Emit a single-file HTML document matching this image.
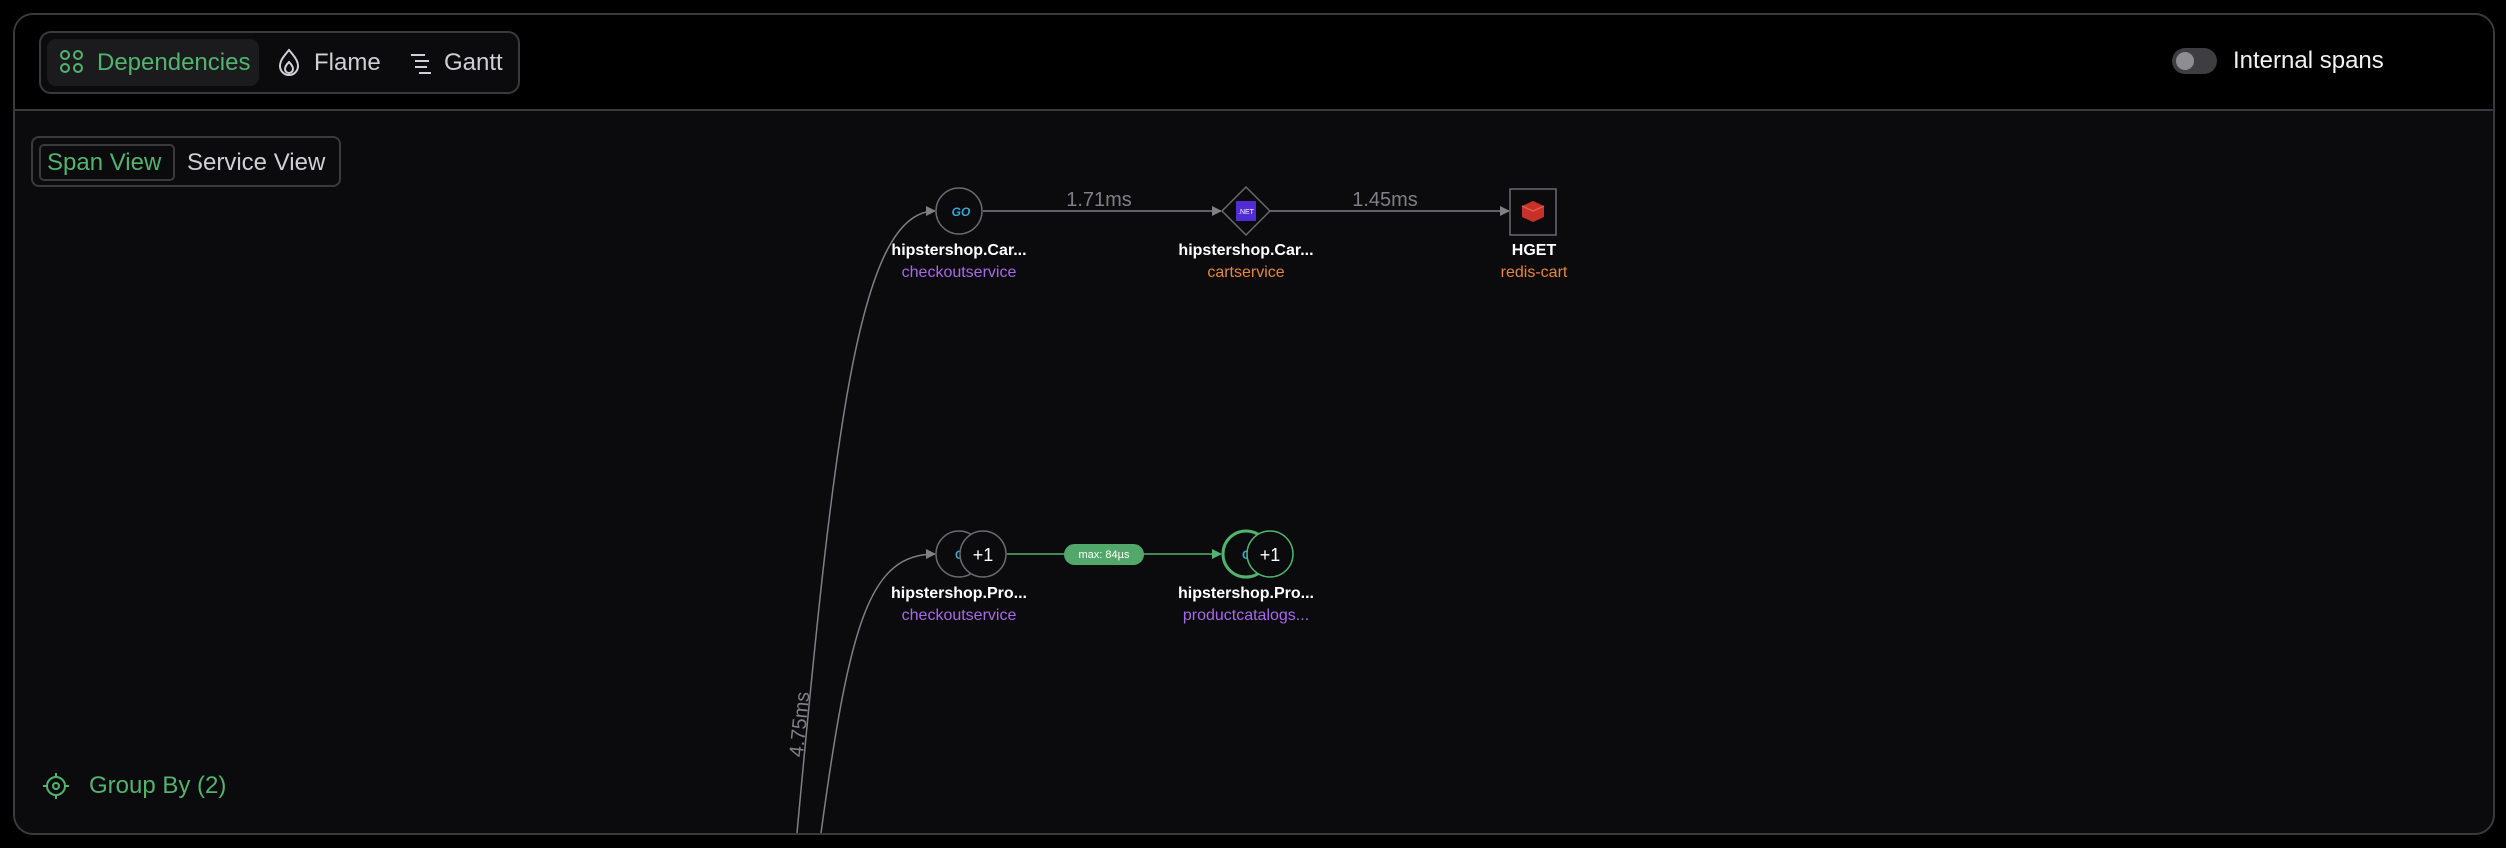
<!DOCTYPE html>
<html><head><meta charset="utf-8"><style>
html,body{margin:0;padding:0;background:#000;width:2506px;height:848px;overflow:hidden;font-family:"Liberation Sans",sans-serif}
.frame{position:absolute;left:13px;top:13px;width:2482px;height:822px;border:2px solid #3a3a3d;border-radius:20px;box-sizing:border-box;overflow:hidden;background:#0b0b0d}
.hdr{position:absolute;left:0;top:0;right:0;height:94px;background:#000;border-bottom:2px solid #3a3a3d}
.tabs{position:absolute;left:24px;top:16px;width:481px;height:63px;border:2px solid #3a3a3d;border-radius:12px;box-sizing:border-box;background:#0b0b0d}
.act{position:absolute;left:6px;top:6px;width:212px;height:47px;background:#1b1b1e;border-radius:9px}
.t{position:absolute;font-size:24px;color:#d0d0d4;line-height:1}
.g{color:#52b36e}
.sv{position:absolute;left:16px;top:121px;width:310px;height:51px;border:2px solid #3a3a3d;border-radius:8px;box-sizing:border-box}
.sva{position:absolute;left:6px;top:6px;width:136px;height:37px;border:2px solid #3a3a3d;border-radius:5px;box-sizing:border-box}
</style></head><body>
<div class="frame">
 <div class="hdr">
  <div class="tabs">
   <div class="act"></div>
   <svg style="position:absolute;left:18px;top:16px" width="26" height="26" viewBox="0 0 26 26" fill="none" stroke="#52b36e" stroke-width="2"><circle cx="6" cy="6" r="4"/><circle cx="19" cy="6" r="4"/><circle cx="6" cy="19" r="4"/><circle cx="19" cy="19" r="4"/></svg>
   <div class="t g" style="left:56px;top:18px">Dependencies</div>
   <svg style="position:absolute;left:236px;top:14px" width="24" height="30" viewBox="0 0 24 30" fill="none" stroke="#d0d0d4" stroke-width="2"><path d="M12 3 C 6 10 3 14 3 19 a9 9 0 0 0 18 0 C21 14 18 10 12 3Z"/><path d="M12 15 c-3 3 -4 5 -4 7 a4 4 0 0 0 8 0 c0-2 -1-4 -4-7Z"/></svg>
   <div class="t" style="left:273px;top:18px">Flame</div>
   <svg style="position:absolute;left:368px;top:18px" width="24" height="24" viewBox="0 0 24 24" stroke="#d0d0d4" stroke-width="2"><line x1="2" y1="4" x2="16" y2="4"/><line x1="6" y1="10" x2="20" y2="10"/><line x1="6" y1="16" x2="18" y2="16"/><line x1="10" y1="22" x2="22" y2="22"/></svg>
   <div class="t" style="left:403px;top:18px">Gantt</div>
  </div>
  <div style="position:absolute;left:2157px;top:33px;width:45px;height:26px;border-radius:13px;background:#3d3d42"></div>
  <div style="position:absolute;left:2161px;top:37px;width:18px;height:18px;border-radius:9px;background:#8e8e92"></div>
  <div class="t" style="left:2218px;top:34px;color:#f2f2f2;font-size:24px">Internal spans</div>
 </div>
 <div class="sv"><div class="sva"></div>
  <div class="t g" style="left:14px;top:13px">Span View</div>
  <div class="t" style="left:154px;top:13px">Service View</div>
 </div>
 <svg style="position:absolute;left:26px;top:756px" width="30" height="30" viewBox="0 0 30 30" fill="none" stroke="#52b36e" stroke-width="2"><circle cx="15" cy="15" r="9"/><circle cx="15" cy="15" r="3"/><line x1="15" y1="2" x2="15" y2="6"/><line x1="15" y1="24" x2="15" y2="28"/><line x1="2" y1="15" x2="6" y2="15"/><line x1="24" y1="15" x2="28" y2="15"/></svg>
 <div class="t g" style="left:74px;top:759px">Group By (2)</div>
</div>
<svg style="position:absolute;left:0;top:0" width="2506" height="848" font-family="Liberation Sans, sans-serif">
 <defs>
  <marker id="a" markerWidth="10" markerHeight="10" refX="9" refY="5" orient="auto" markerUnits="userSpaceOnUse"><path d="M0,0 L10,5 L0,10Z" fill="#808084"/></marker>
  <marker id="ag" markerWidth="10" markerHeight="10" refX="9" refY="5" orient="auto" markerUnits="userSpaceOnUse"><path d="M0,0 L10,5 L0,10Z" fill="#52b36e"/></marker>
 </defs>
 <g fill="none" stroke="#808084" stroke-width="1.5">
  <path d="M797,833 C 835,420 860,211 935,211" marker-end="url(#a)"/>
  <path d="M821,833 C 850,620 870,554 935,554" marker-end="url(#a)"/>
  <line x1="983" y1="211" x2="1221" y2="211" marker-end="url(#a)"/>
  <line x1="1270" y1="211" x2="1509" y2="211" marker-end="url(#a)"/>
 </g>
 <text x="806" y="725" fill="#808084" font-size="20" text-anchor="middle" transform="rotate(-84 806 725)">4.75ms</text>
 <text x="1099" y="206" fill="#808084" font-size="20" text-anchor="middle">1.71ms</text>
 <text x="1385" y="206" fill="#808084" font-size="20" text-anchor="middle">1.45ms</text>
 <circle cx="959" cy="211" r="23" fill="#0b0b0d" stroke="#6a6a6e" stroke-width="1.5"/>
 <text x="961" y="216" fill="#36a8d8" font-size="12" font-weight="bold" font-style="italic" text-anchor="middle">GO</text>
 <path d="M1246,187 L1270,211 L1246,235 L1222,211Z" fill="#0b0b0d" stroke="#6a6a6e" stroke-width="1.5"/>
 <rect x="1236" y="201" width="20" height="20" fill="#512bd4"/>
 <text x="1246" y="214" fill="#fff" font-size="7" text-anchor="middle">.NET</text>
 <rect x="1510" y="189" width="46" height="46" fill="#0b0b0d" stroke="#6a6a6e" stroke-width="1.5"/>
 <path d="M1522,206 L1533,201 L1544,206 L1544,217 L1533,222 L1522,217Z" fill="#c8302a"/>
 <path d="M1522,206 L1533,211 L1544,206" fill="none" stroke="#e85a50" stroke-width="1.5"/>
 <g text-anchor="middle" font-size="16">
  <text x="959" y="255" fill="#fff" font-weight="bold">hipstershop.Car...</text>
  <text x="959" y="277" fill="#a56ae6">checkoutservice</text>
  <text x="1246" y="255" fill="#fff" font-weight="bold">hipstershop.Car...</text>
  <text x="1246" y="277" fill="#e5873c">cartservice</text>
  <text x="1534" y="255" fill="#fff" font-weight="bold">HGET</text>
  <text x="1534" y="277" fill="#e5873c">redis-cart</text>
  <text x="959" y="598" fill="#fff" font-weight="bold">hipstershop.Pro...</text>
  <text x="959" y="620" fill="#a56ae6">checkoutservice</text>
  <text x="1246" y="598" fill="#fff" font-weight="bold">hipstershop.Pro...</text>
  <text x="1246" y="620" fill="#a56ae6">productcatalogs...</text>
 </g>
 <line x1="1007" y1="554" x2="1221" y2="554" stroke="#52b36e" stroke-width="1.5" marker-end="url(#ag)"/>
 <rect x="1064" y="544" width="80" height="21" rx="10.5" fill="#52a86a"/>
 <text x="1104" y="558" fill="#fff" font-size="11" text-anchor="middle">max: 84µs</text>
 <circle cx="959" cy="554" r="23" fill="#0b0b0d" stroke="#6a6a6e" stroke-width="1.5"/>
 <text x="955" y="559" fill="#36a8d8" font-size="12" font-weight="bold">G</text>
 <circle cx="983" cy="554" r="23" fill="#0b0b0d" stroke="#6a6a6e" stroke-width="1.5"/>
 <text x="983" y="561" fill="#fff" font-size="18" text-anchor="middle">+1</text>
 <circle cx="1246" cy="554" r="23" fill="#0b0b0d" stroke="#52b36e" stroke-width="3"/>
 <text x="1242" y="559" fill="#36a8d8" font-size="12" font-weight="bold">G</text>
 <circle cx="1270" cy="554" r="23" fill="#0b0b0d" stroke="#52b36e" stroke-width="1.5"/>
 <text x="1270" y="561" fill="#fff" font-size="18" text-anchor="middle">+1</text>
</svg>
</body></html>
